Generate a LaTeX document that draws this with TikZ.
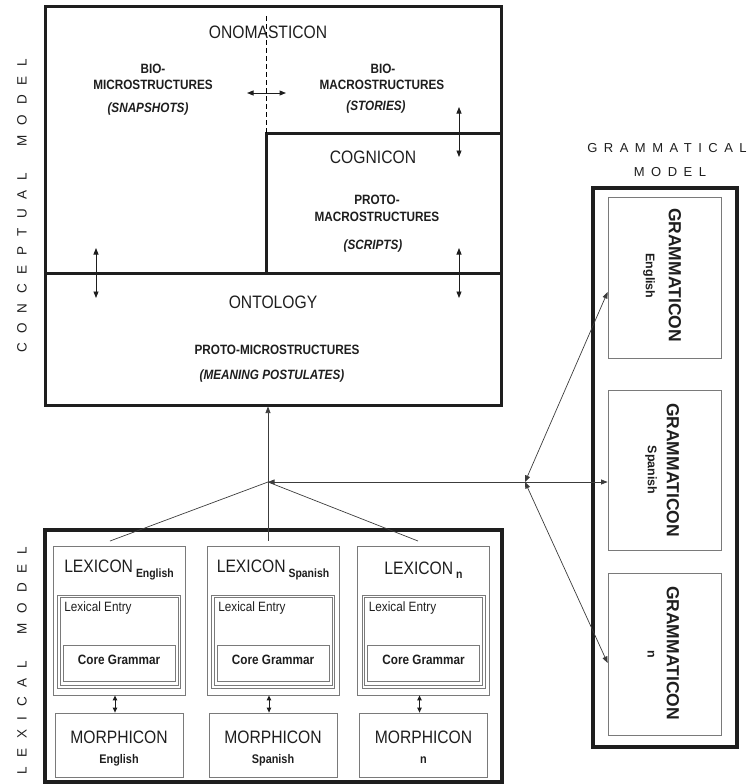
\documentclass[tikz,border=0pt]{standalone}
\usepackage{fontspec}
\setmainfont{Liberation Sans}
\newfontfamily\nar[FakeStretch=0.87]{Liberation Sans}
\newfontfamily\spc[LetterSpace=72]{Liberation Sans}
\newfontfamily\spcg[LetterSpace=50]{Liberation Sans}
\usetikzlibrary{arrows.meta}
\definecolor{ink}{HTML}{1E1E1E}
\definecolor{thin}{HTML}{7A7A7A}
\definecolor{conn}{HTML}{3C3C3C}
\begin{document}
\begin{tikzpicture}[x=1pt,y=-1pt,
  bigbox/.style={draw=ink,line width=3pt,inner sep=0pt},
  heavybox/.style={draw=ink,line width=3.8pt,inner sep=0pt},
  thinbox/.style={draw=thin,line width=0.8pt,inner sep=0pt},
  txt/.style={text=ink,inner sep=0pt},
  sub/.style={txt,font=\nar\bfseries\fontsize{13.5}{16}\selectfont},
  subi/.style={txt,font=\nar\bfseries\itshape\fontsize{13.5}{16}\selectfont},
  connline/.style={draw=conn,line width=0.7pt},
  ah/.style={{Triangle[length=6.5pt,width=5pt]}-{Triangle[length=6.5pt,width=5pt]}},
  ahe/.style={-{Triangle[length=6.5pt,width=5pt]}},
  sah/.style={{Triangle[length=5pt,width=4.5pt]}-{Triangle[length=5pt,width=4.5pt]}}
]
\useasboundingbox (0,0) rectangle (750,784);

% ---------------- side labels
\node[txt,rotate=90] (lblC) at (22,206) {\spc\fontsize{13.5}{14}\selectfont CONCEPTUAL\ \ MODEL};
\node[txt,rotate=90] (lblL) at (22,661) {\spc\fontsize{13.5}{14}\selectfont LEXICAL\ \ MODEL};
\node[txt] (lblG1) at (667,148) {\spcg\fontsize{13}{14}\selectfont GRAMMATICAL};
\node[txt] (lblG2) at (670,172) {\spcg\fontsize{13}{14}\selectfont MODEL};

% ---------------- conceptual model
\node[bigbox,minimum width=456pt,minimum height=398pt] (concept) at (273,206) {};
\node[bigbox,minimum width=235pt,minimum height=140pt] (cog) at (383.5,203) {};
\draw[ink,line width=3pt] (45,273) -- (501,273);
\draw[thin,dashed,dash pattern=on 5pt off 3pt,line width=0.7pt] (266,16) -- (266,133);

\node[txt] (onoma) at (268,32) {\nar\fontsize{18}{18}\selectfont ONOMASTICON};
\node[sub] (biomic1) at (153,69) {BIO-};
\node[sub] (biomic2) at (153,85) {MICROSTRUCTURES};
\node[subi] (biomic3) at (148,109) {(SNAPSHOTS)};
\node[sub] (biomac1) at (383,69) {BIO-};
\node[sub] (biomac2) at (382,85) {MACROSTRUCTURES};
\node[subi] (biomac3) at (376,107) {(STORIES)};
\node[txt] (cogt) at (373,157) {\nar\fontsize{18}{18}\selectfont COGNICON};
\node[sub] (protomac1) at (377,200) {PROTO-};
\node[sub] (protomac2) at (377,217) {MACROSTRUCTURES};
\node[subi] (protomac3) at (373,246) {(SCRIPTS)};
\node[txt] (onto) at (273,302) {\nar\fontsize{18}{18}\selectfont ONTOLOGY};
\node[sub] (protomic) at (277,350) {PROTO-MICROSTRUCTURES};
\node[subi] (meaning) at (272,376) {(MEANING POSTULATES)};

\coordinate (hA) at (247,93); \coordinate (hB) at (286,93);
\coordinate (vA1) at (459,107); \coordinate (vA2) at (459,157);
\coordinate (vB1) at (96,248); \coordinate (vB2) at (96,298);
\coordinate (vC1) at (459,248); \coordinate (vC2) at (459,298);
\draw[ink,line width=1pt,ah] (hA) -- (hB);
\draw[ink,line width=0.8pt,ah] (vA1) -- (vA2);
\draw[ink,line width=0.8pt,ah] (vB1) -- (vB2);
\draw[ink,line width=0.8pt,ah] (vC1) -- (vC2);

% ---------------- lexical model
\node[heavybox,minimum width=457pt,minimum height=252pt] (lexical) at (273.5,656) {};

\foreach \nm/\cx/\sub in {En/119/English, Es/273/Spanish, N/423.5/n}{
  \node[thinbox,minimum width=132pt,minimum height=149pt] (lex\nm) at (\cx,620.5) {};
  \node[thinbox,line width=0.6pt,minimum width=123pt,minimum height=93pt] (entry\nm) at (\cx,641.5) {};
  \node[thinbox,line width=0.6pt,minimum width=118pt,minimum height=88pt] (entryin\nm) at (\cx,641.5) {};
  \node[thinbox,minimum width=112pt,minimum height=36pt] (core\nm) at (\cx,663) {};
  \node[thinbox,minimum width=128pt,minimum height=64pt] (morph\nm) at (\cx,745) {};
  \node[txt] (lext\nm) at (\cx,570) {\nar\fontsize{18}{18}\selectfont LEXICON\,\raisebox{-4.5pt}{\bfseries\fontsize{12}{12}\selectfont\sub}};
  \node[txt,anchor=west] (entt\nm) at ([xshift=7pt]entry\nm.west |- 0,608) {\nar\fontsize{13.5}{14}\selectfont Lexical Entry};
  \node[txt] (coret\nm) at (\cx,660) {\nar\bfseries\fontsize{13.5}{14}\selectfont Core Grammar};
  \node[txt] (morpht\nm) at (\cx,737) {\nar\fontsize{18}{18}\selectfont MORPHICON};
  \node[txt] (morphs\nm) at (\cx,760) {\nar\bfseries\fontsize{12.5}{13}\selectfont\sub};
  \draw[ink,line width=1pt,sah] ([xshift=-4pt]lex\nm.south) -- ([xshift=-4pt]morph\nm.north);
}

% ---------------- grammatical model
\node[heavybox,minimum width=144pt,minimum height=559pt] (gram) at (665,467.5) {};
\node[thinbox,minimum width=113pt,minimum height=161pt] (gEn) at (664.5,277.5) {};
\node[thinbox,minimum width=113pt,minimum height=160pt] (gEs) at (664.5,470) {};
\node[thinbox,minimum width=113pt,minimum height=162pt] (gN) at (664.5,654) {};
\node[txt,rotate=-90] (gEnT) at (675,275) {\bfseries\fontsize{17.5}{18}\selectfont GRAMMATICON};
\node[txt,rotate=-90] (gEnS) at (649,276) {\bfseries\fontsize{12.5}{13}\selectfont English};
\node[txt,rotate=-90] (gEsT) at (673,470) {\bfseries\fontsize{17.5}{18}\selectfont GRAMMATICON};
\node[txt,rotate=-90] (gEsS) at (651,470) {\bfseries\fontsize{12.5}{13}\selectfont Spanish};
\node[txt,rotate=-90] (gNT) at (673,653) {\bfseries\fontsize{17.5}{18}\selectfont GRAMMATICON};
\node[txt,rotate=-90] (gNS) at (651,654) {\bfseries\fontsize{12.5}{13}\selectfont n};

% ---------------- connectors
\coordinate (jL) at (268,482);
\coordinate (jR) at (525,482);
\coordinate (dEn) at (110,541);
\coordinate (dEs) at (268,541);
\coordinate (dN) at (418,541);
\draw[connline,ahe] (jL) -- (jL |- concept.south);
\draw[connline] (jL) -- (dEn);
\draw[connline] (jL) -- (dEs);
\draw[connline] (jL) -- (dN);
\draw[connline,ah] (jL) -- (jL -| gEs.west);
\draw[connline,ah] (jR) -- ([yshift=-14.5pt]gEn.west);
\draw[connline,ah] (jR) -- ([yshift=-9pt]gN.west);
\end{tikzpicture}
\end{document}
